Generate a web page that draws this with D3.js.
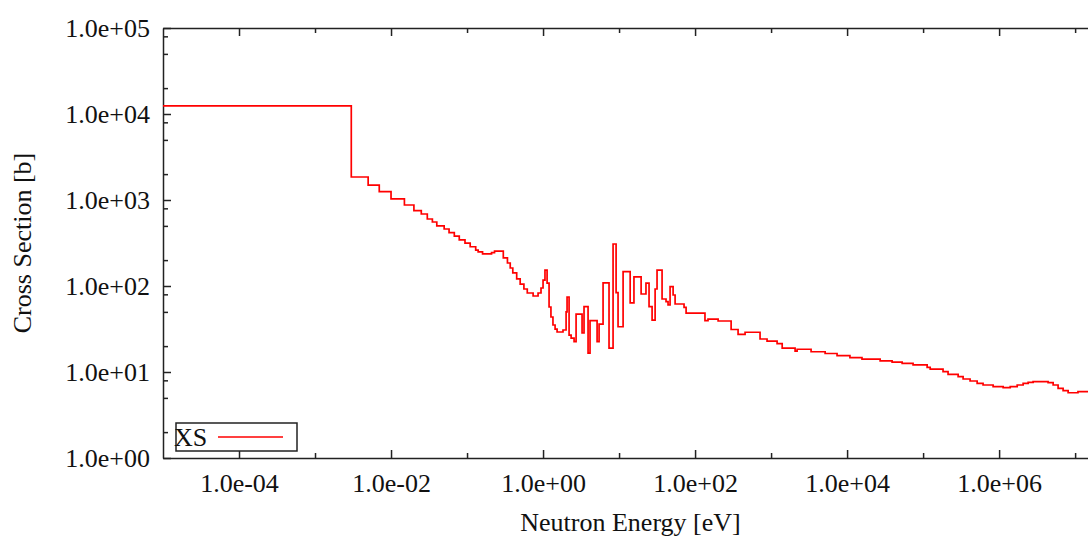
<!DOCTYPE html>
<html>
<head>
<meta charset="utf-8">
<script src="https://cdn.jsdelivr.net/npm/d3@7"></script>
<style>
  body { margin: 0; background: #fff; }
  svg { display: block; font-family: "Liberation Serif", "Times New Roman", serif; }
  .axis path, .axis line { stroke: #222; stroke-width: 1.5; }
  .axis text { font-size: 26px; fill: #111; font-family: "Liberation Serif", serif; }
</style>
</head>
<body>
<script>
'use strict';

// group boundaries [eV] and group cross sections [b]
var groupEdges = [1e-5, 3.0e-3, 5.0e-3, 7.0e-3, 1.0e-2, 1.5e-2, 2.0e-2, 2.5e-2, 3.0e-2, 3.5e-2,
    4.0e-2, 5.0e-2, 5.8e-2, 6.8e-2, 7.9e-2, 9.4e-2, 0.11, 0.13, 0.14, 0.16,
    0.21, 0.23, 0.30, 0.34, 0.37, 0.40, 0.45, 0.50, 0.56, 0.62,
    0.74, 0.86, 0.94, 1.0, 1.06, 1.13, 1.20, 1.27, 1.35, 1.44,
    1.53, 1.83, 2.01, 2.07, 2.20, 2.34, 2.56, 2.72, 3.26, 3.46,
    3.91, 4.15, 5.14, 5.46, 6.16, 7.38, 8.34, 9.14, 9.70, 11.3,
    14.0, 15.7, 19.5, 22.6, 24.8, 27.2, 29.8, 31.6, 36.8, 41.5,
    44.1, 46.9, 51.4, 54.6, 71.6, 76.2, 135, 148, 201, 298,
    368, 455, 716, 885, 1200, 1400, 2070, 2200, 3360, 5140,
    7380, 1.09e4, 1.57e4, 2.72e4, 3.91e4, 5.3e4, 7.38e4, 1.13e5, 1.24e5, 1.83e5,
    2.13e5, 2.89e5, 3.36e5, 4.15e5, 5.14e5, 6.15e5, 8.34e5, 1.13e6, 1.4e6, 1.73e6,
    2.07e6, 2.41e6, 2.8e6, 4.41e6, 5.14e6, 5.97e6, 6.95e6, 8.09e6, 1.09e7, 2e7];

var xsValues = [12400, 1850, 1490, 1250, 1030, 875, 751, 687, 601, 555,
    499, 460, 417, 381, 343, 316, 286, 262, 249, 236,
    244, 255, 212, 185, 162, 142, 121, 105, 92.3, 82.9,
    76.5, 82.9, 94.8, 117, 153, 108, 57.0, 43.6, 35.2, 31.6,
    29.2, 30.8, 49.9, 74.5, 26.9, 24.8, 22.5, 47.2, 28.4, 57.5,
    16.6, 39.5, 22.5, 36.1, 109, 18.9, 308, 83.6, 33.6, 147,
    63.5, 128, 80.7, 108, 57.5, 40.2, 92.3, 153, 70.6, 65.7,
    60.1, 98.1, 78.6, 61.8, 56.5, 48.5, 39.5, 41.3, 39.2, 31.2,
    27.4, 29.0, 24.2, 22.9, 21.4, 19.0, 17.5, 18.4, 17.2, 16.4,
    15.5, 14.7, 14.1, 13.5, 13.0, 12.6, 12.1, 11.3, 10.8, 10.1,
    9.40, 8.82, 8.29, 7.86, 7.39, 7.06, 6.75, 6.57, 6.75, 7.06,
    7.39, 7.59, 7.71, 7.51, 7.06, 6.46, 6.06, 5.74, 5.90];

var xMajorTicks = [1e-4, 1e-2, 1, 1e2, 1e4, 1e6];
var xMinorTicks = [1e-3, 1e-1, 1e1, 1e3, 1e5, 1e7];
var yMajorTicks = [1, 1e1, 1e2, 1e3, 1e4, 1e5];
var yMinorTicks = [2, 5, 8, 20, 50, 80, 200, 500, 800, 2e3, 5e3, 8e3, 2e4, 5e4, 8e4];
var xDomain = [1e-5, 2e7];
var yDomain = [1, 1e5];

var w = 1088,
    h = 538,
    mLeft = 163,
    mTop = 28,
    plotW = 935,
    plotH = 430;

var svg = d3.select("body").append("svg")
    .attr("width", w)
    .attr("height", h);

var x = d3.scaleLog().domain(xDomain).range([mLeft, mLeft + plotW]);
var y = d3.scaleLog().domain(yDomain).range([mTop + plotH, mTop]);

function sci(v) {
    var s = v.toExponential(1).split("e");
    var e = +s[1];
    return s[0] + "e" + (e < 0 ? "-" : "+") + (Math.abs(e) < 10 ? "0" : "") + Math.abs(e);
}

svg.append("defs").append("clipPath").attr("id", "clip")
    .append("rect")
    .attr("x", mLeft).attr("y", mTop)
    .attr("width", plotW).attr("height", plotH);

// bottom axis
svg.append("g").attr("class", "axis")
    .attr("transform", "translate(0," + (mTop + plotH) + ")")
    .call(d3.axisBottom(x).tickValues(xMajorTicks).tickFormat(sci).tickSize(-8).tickSizeOuter(0).tickPadding(16));
svg.append("g").attr("class", "axis")
    .attr("transform", "translate(0," + (mTop + plotH) + ")")
    .call(d3.axisBottom(x).tickValues(xMinorTicks).tickFormat("").tickSize(-5).tickSizeOuter(0))
    .select(".domain").remove();

// top axis
svg.append("g").attr("class", "axis")
    .attr("transform", "translate(0," + mTop + ")")
    .call(d3.axisTop(x).tickValues(xMajorTicks).tickFormat("").tickSize(-8).tickSizeOuter(0));
svg.append("g").attr("class", "axis")
    .attr("transform", "translate(0," + mTop + ")")
    .call(d3.axisTop(x).tickValues(xMinorTicks).tickFormat("").tickSize(-5).tickSizeOuter(0))
    .select(".domain").remove();

// left axis
svg.append("g").attr("class", "axis")
    .attr("transform", "translate(" + mLeft + ",0)")
    .call(d3.axisLeft(y).tickValues(yMajorTicks).tickFormat(sci).tickSize(-8).tickSizeOuter(0).tickPadding(13));
svg.append("g").attr("class", "axis")
    .attr("transform", "translate(" + mLeft + ",0)")
    .call(d3.axisLeft(y).tickValues(yMinorTicks).tickFormat("").tickSize(-5).tickSizeOuter(0))
    .select(".domain").remove();

// step curve
var pts = xsValues.map(function (v, i) { return [groupEdges[i], v]; });
pts.push([groupEdges[groupEdges.length - 1], xsValues[xsValues.length - 1]]);

var line = d3.line()
    .x(function (d) { return x(d[0]); })
    .y(function (d) { return y(d[1]); })
    .curve(d3.curveStepAfter);

svg.append("path")
    .datum(pts)
    .attr("clip-path", "url(#clip)")
    .attr("fill", "none")
    .attr("stroke", "#ff0000")
    .attr("stroke-width", 1.7)
    .attr("d", line);

// axis titles
svg.append("text")
    .attr("x", mLeft + plotW / 2).attr("y", 531)
    .attr("text-anchor", "middle")
    .style("font-size", "26px").style("fill", "#111")
    .text("Neutron Energy [eV]");

svg.append("text")
    .attr("transform", "translate(31," + (mTop + plotH / 2) + ")rotate(-90)")
    .attr("text-anchor", "middle")
    .style("font-size", "26px").style("fill", "#111")
    .text("Cross Section [b]");

// legend
var lg = svg.append("g");
lg.append("rect")
    .attr("x", 176).attr("y", 423)
    .attr("width", 121).attr("height", 28)
    .attr("fill", "#fff").attr("stroke", "#222").attr("stroke-width", 1.5);
lg.append("text")
    .attr("x", 174).attr("y", 446)
    .style("font-size", "26px").style("fill", "#111")
    .text("XS");
lg.append("line")
    .attr("x1", 218).attr("x2", 283)
    .attr("y1", 437).attr("y2", 437)
    .attr("stroke", "#ff0000").attr("stroke-width", 1.7);
</script>
</body>
</html>
